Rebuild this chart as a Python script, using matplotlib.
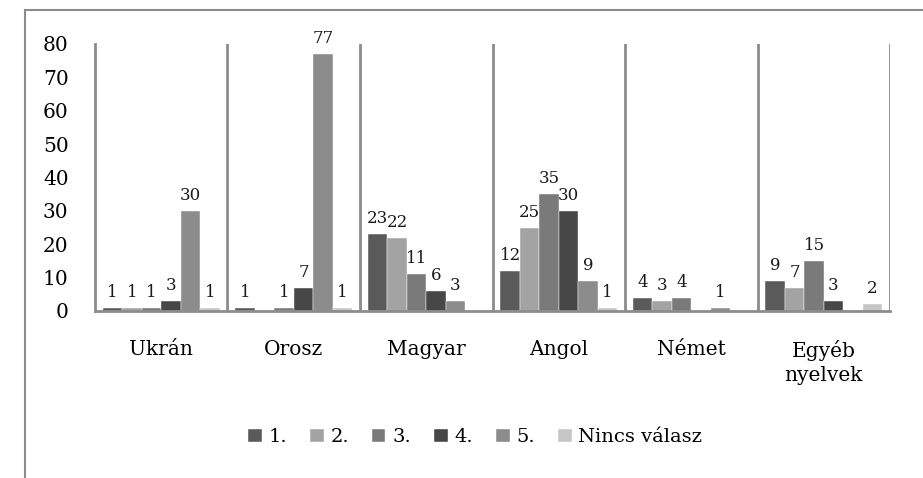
import matplotlib
matplotlib.use("Agg")
import matplotlib.pyplot as plt
import numpy as np
from matplotlib.lines import Line2D

plt.rcParams['font.family'] = ['DejaVu Serif']

categories = ["Ukrán", "Orosz", "Magyar", "Angol", "Német", "Egyéb\nnyelvek"]
series_names = ["1.", "2.", "3.", "4.", "5.", "Nincs válasz"]
s1 = [1, 1, 23, 12, 4, 9]
s2 = [1, 0, 22, 25, 3, 7]
s3 = [1, 1, 11, 35, 4, 15]
s4 = [3, 7, 6, 30, 0, 3]
s5 = [30, 77, 3, 9, 1, 0]
s6 = [1, 1, 0, 1, 0, 2]
series = [s1, s2, s3, s4, s5, s6]
colors = ["#5a5a5a", "#a3a3a3", "#7a7a7a", "#474747", "#8c8c8c", "#c6c6c6"]
yticks = [0, 10, 20, 30, 40, 50, 60, 70, 80]

fig = plt.figure(figsize=(9.23, 4.78), dpi=100)
ax = fig.add_axes([0.1029, 0.3494, 0.8614, 0.5586])

x = np.arange(len(categories))
w = 0.147
for i, (vals, col) in enumerate(zip(series, colors)):
    ax.bar(x + (i - 2.5) * w, vals, width=w, color=col, label=series_names[i],
           edgecolor='white', linewidth=0.3)
    for xi, v in zip(x, vals):
        if v > 0:
            ax.annotate(str(v), (xi + (i - 2.5) * w, v), xytext=(0, 5),
                        textcoords='offset points', ha='center', va='bottom',
                        fontsize=12, color='#1a1a1a')

ax.set_xlim(-0.5, 5.5)
ax.set_ylim(0, 80)
ax.set_yticks(yticks)
ax.set_yticklabels([str(t) for t in yticks], fontsize=14.5)
ax.tick_params(axis='y', length=0, pad=19)
ax.set_xticks(x)
ax.set_xticklabels(categories, fontsize=14.5, linespacing=1.3)
ax.tick_params(axis='x', length=0, pad=21)

for s in ['top', 'right']:
    ax.spines[s].set_visible(False)
for s in ['left', 'bottom']:
    ax.spines[s].set_color('#8c8c8c')
    ax.spines[s].set_linewidth(2)
for b in np.arange(0.5, 6.0, 1.0):
    ax.axvline(b, color='#8c8c8c', linewidth=2, zorder=0)

leg = fig.legend(loc='center', bbox_to_anchor=(0.515, 0.085), ncol=6, frameon=False,
                 fontsize=14, handlelength=0.68, handleheight=0.68, handletextpad=0.35,
                 columnspacing=1.2)

# outer frame (top and left only visible)
fig.add_artist(Line2D([25/923, 1.0], [1 - 10/478, 1 - 10/478], transform=fig.transFigure,
                      color='#8c8c8c', linewidth=1.5))
fig.add_artist(Line2D([25/923, 25/923], [0, 1 - 10/478], transform=fig.transFigure,
                      color='#8c8c8c', linewidth=1.5))

fig.savefig("out.png", dpi=100, facecolor='white')
